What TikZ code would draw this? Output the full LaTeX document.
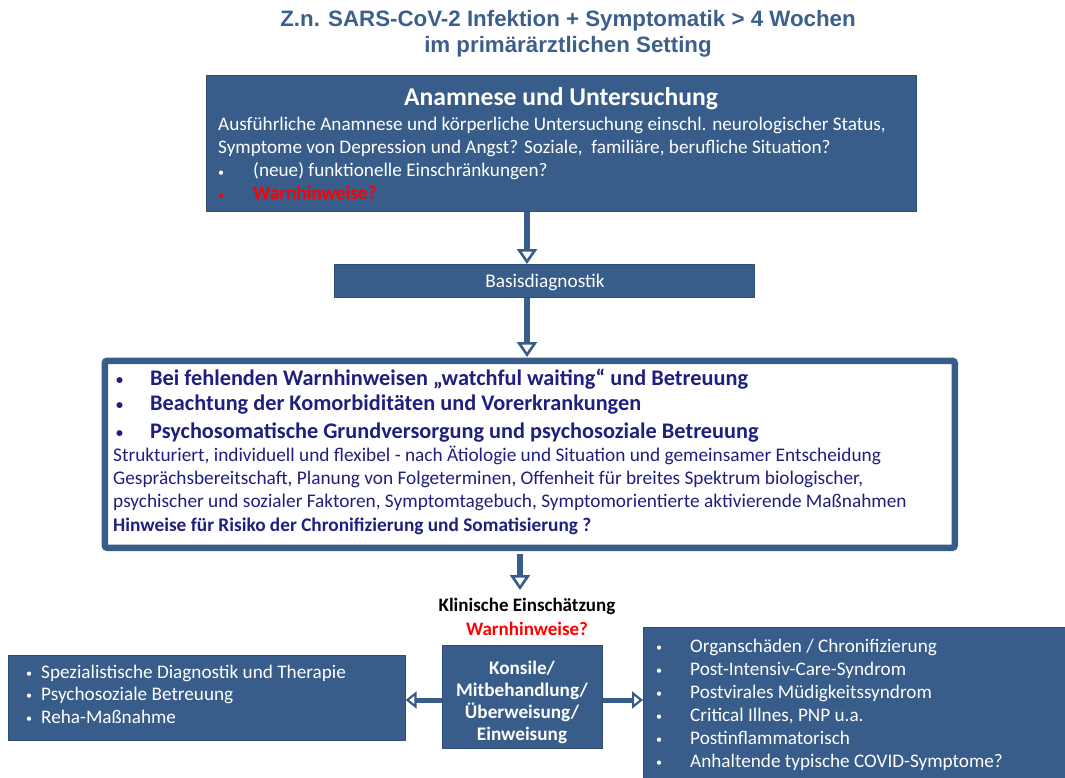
\documentclass[tikz,border=0pt]{standalone}
\usepackage{fontspec}
\setmainfont{Carlito}
\newfontfamily\arialfont{Liberation Sans}
\usetikzlibrary{arrows.meta}
\definecolor{boxblue}{HTML}{385D8A}
\definecolor{titleblue}{HTML}{3D5F8C}
\definecolor{navytext}{HTML}{1F1F80}
\definecolor{warnred}{HTML}{FF0000}
\tikzset{
  bluebox/.style={fill=boxblue, draw=boxblue!85!black, line width=0.6pt, inner sep=0pt},
  flowarrow/.style={draw=boxblue, line width=6.5pt, -{Triangle[width=20pt,length=15pt,fill=white,line width=2.6pt]}},
  sidearrow/.style={draw=boxblue, line width=5pt, -{Triangle[width=17pt,length=11pt,fill=white,line width=2.2pt]}},
  txt/.style={inner sep=0pt, anchor=base west},
  ctxt/.style={inner sep=0pt, anchor=base},
  topfont/.style={text=white, font=\fontsize{19.2}{23}\selectfont},
  midbold/.style={text=navytext, font=\bfseries\fontsize{22.3}{26}\selectfont},
  midreg/.style={text=navytext, font=\fontsize{19.3}{23}\selectfont},
  sidefont/.style={text=white, font=\fontsize{19.2}{23}\selectfont},
  konsfont/.style={text=white, font=\bfseries\fontsize{19.2}{22}\selectfont},
}
\newcommand{\bul}[1]{\makebox[#1][l]{\fontsize{12}{12}\selectfont\raisebox{0.6pt}{\textbullet}}}
\newcommand{\bigbul}[1]{\makebox[#1][l]{\fontsize{14}{14}\selectfont\raisebox{1pt}{\textbullet}}}
\begin{document}
\begin{tikzpicture}[x=1pt,y=-1pt]
\useasboundingbox (0,0) rectangle (1065,778);
% title
\node[ctxt, text=titleblue, font=\arialfont\bfseries\fontsize{22.3}{26}\selectfont] (title1) at (568,27)
  {Z.n. SARS-CoV-2 Infektion + Symptomatik > 4 Wochen};
\node[ctxt, text=titleblue, font=\arialfont\bfseries\fontsize{22.3}{26}\selectfont] (title2) at (568,53)
  {im primärärztlichen Setting};
% top box
\node[bluebox, anchor=north west, minimum width=710pt, minimum height=136pt] (top) at (206,75) {};
\node[ctxt, text=white, font=\bfseries\fontsize{25.6}{30}\selectfont] (toph) at (561,106) {Anamnese und Untersuchung};
\node[txt, topfont] (t1) at (218,131) {Ausführliche Anamnese und körperliche Untersuchung einschl. neurologischer Status,};
\node[txt, topfont] (t2) at (218,154) {Symptome von Depression und Angst? Soziale,\ \ familiäre, berufliche Situation?};
\node[txt, topfont] (t3) at (218,177) {\bul{35pt}(neue) funktionelle Einschränkungen?};
\node[txt, topfont, text=warnred] (t4) at (218,200) {\bul{35pt}\textbf{Warnhinweise?}};
% basis
\node[bluebox, anchor=north west, minimum width=420pt, minimum height=33pt] (basis) at (334,264) {};
\node[ctxt, text=white, font=\fontsize{19.3}{22}\selectfont] (basist) at (545,287) {Basisdiagnostik};
% middle box
\node[draw=boxblue, line width=6.5pt, fill=white, rounded corners=2.5pt, anchor=north west, minimum width=850pt, minimum height=187pt, inner sep=0pt] (mid) at (101.5,357.5) {};
\node[txt, midbold] (m1) at (116,385) {\bigbul{34pt}Bei fehlenden Warnhinweisen „watchful waiting“ und Betreuung};
\node[txt, midbold] (m2) at (116,410) {\bigbul{34pt}Beachtung der Komorbiditäten und Vorerkrankungen};
\node[txt, midbold] (m3) at (116,438) {\bigbul{34pt}Psychosomatische Grundversorgung und psychosoziale Betreuung};
\node[txt, midreg] (m4) at (113,461) {Strukturiert, individuell und flexibel - nach Ätiologie und Situation und gemeinsamer Entscheidung};
\node[txt, midreg] (m5) at (113,484) {Gesprächsbereitschaft, Planung von Folgeterminen, Offenheit für breites Spektrum biologischer,};
\node[txt, midreg] (m6) at (113,507) {psychischer und sozialer Faktoren, Symptomtagebuch, Symptomorientierte aktivierende Maßnahmen};
\node[txt, midreg, font=\bfseries\fontsize{19.3}{23}\selectfont] (m7) at (113,531) {Hinweise für Risiko der Chronifizierung und Somatisierung ?};
% klinische
\node[ctxt, font=\bfseries\fontsize{19}{22}\selectfont] (klin) at (527,611) {Klinische Einschätzung};
\node[ctxt, text=warnred, font=\bfseries\fontsize{19}{22}\selectfont] (warn) at (527,635) {Warnhinweise?};
% konsile
\node[bluebox, anchor=north west, minimum width=160pt, minimum height=103pt] (kons) at (442,645) {};
\node[ctxt, konsfont] (k1) at (522,674) {Konsile/};
\node[ctxt, konsfont] (k2) at (522,696) {Mitbehandlung/};
\node[ctxt, konsfont] (k3) at (522,718) {Überweisung/};
\node[ctxt, konsfont] (k4) at (522,740) {Einweisung};
% left box
\node[bluebox, anchor=north west, minimum width=397pt, minimum height=85pt] (left) at (8,655) {};
\node[txt, sidefont] (l1) at (26,678) {\bul{15pt}Spezialistische Diagnostik und Therapie};
\node[txt, sidefont] (l2) at (26,700) {\bul{15pt}Psychosoziale Betreuung};
\node[txt, sidefont] (l3) at (26,723) {\bul{15pt}Reha-Maßnahme};
% right box
\node[bluebox, anchor=north west, minimum width=422pt, minimum height=152pt] (right) at (643,627) {};
\node[txt, sidefont] (r1) at (656,652) {\bul{34pt}Organschäden / Chronifizierung};
\node[txt, sidefont] (r2) at (656,675) {\bul{34pt}Post-Intensiv-Care-Syndrom};
\node[txt, sidefont] (r3) at (656,698) {\bul{34pt}Postvirales Müdigkeitssyndrom};
\node[txt, sidefont] (r4) at (656,721) {\bul{34pt}Critical Illnes, PNP u.a.};
\node[txt, sidefont] (r5) at (656,744) {\bul{34pt}Postinflammatorisch};
\node[txt, sidefont] (r6) at (656,767) {\bul{34pt}Anhaltende typische COVID-Symptome?};
% arrows
\coordinate (a1) at (527,0);
\draw[flowarrow] (top.south -| a1) -- (basis.north -| a1);
\draw[flowarrow] (basis.south -| a1) -- ([yshift=0.5pt]mid.north -| a1);
\coordinate (a3) at (520,590);
\draw[flowarrow] ([yshift=-3pt]mid.south -| a3) -- (a3);
\coordinate (hy) at (0,700);
\draw[sidearrow] (kons.west |- hy) -- (left.east |- hy);
\draw[sidearrow] (kons.east |- hy) -- (right.west |- hy);
\end{tikzpicture}
\end{document}
